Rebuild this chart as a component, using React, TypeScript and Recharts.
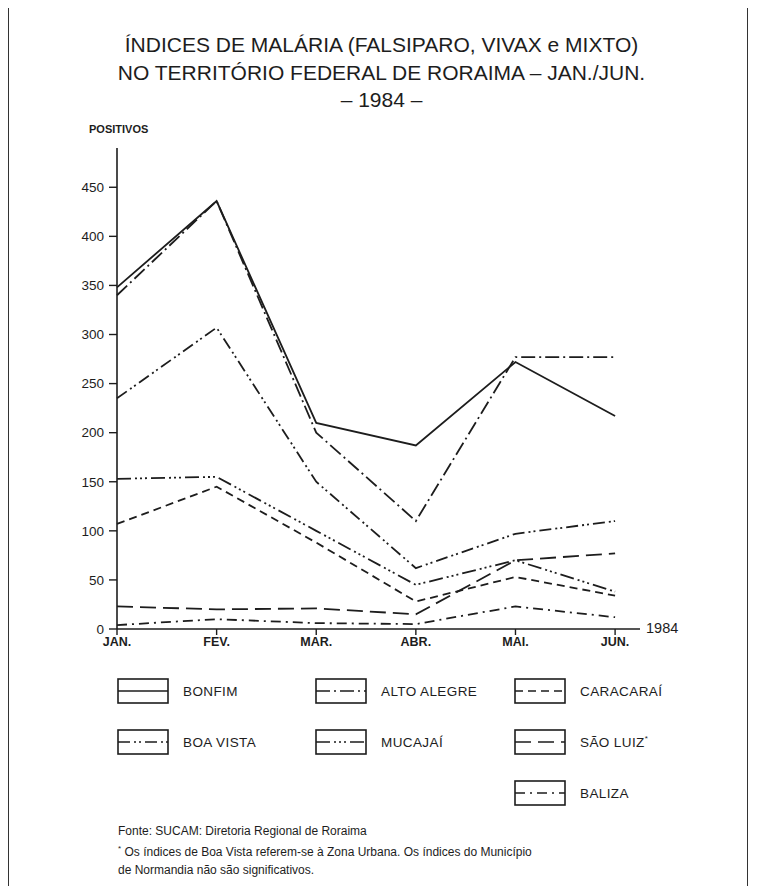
import React from 'react';
import { LineChart, Line, XAxis, YAxis } from 'recharts';

const months = ['JAN.', 'FEV.', 'MAR.', 'ABR.', 'MAI.', 'JUN.'];
const yTicks = [0, 50, 100, 150, 200, 250, 300, 350, 400, 450];

const bonfim = [348, 436, 210, 187, 272, 217];
const altoAlegre = [340, 436, 200, 110, 277, 277];
const boaVista = [235, 307, 150, 62, 97, 110];
const mucajai = [153, 155, 100, 45, 70, 38];
const caracarai = [107, 145, 88, 28, 53, 34];
const saoLuiz = [23, 20, 21, 15, 70, 77];
const baliza = [4, 10, 6, 5, 23, 12];

const INK = '#1d1d1d';
const FONT = '"Liberation Sans", Arial, Helvetica, sans-serif';

// dash patterns, as close as I could read them off the print
const SERIES = [
  { key: 'bonfim', name: 'BONFIM', dash: undefined },
  { key: 'altoAlegre', name: 'ALTO ALEGRE', dash: '14 4 2 4' },
  { key: 'caracarai', name: 'CARACARAÍ', dash: '8 5' },
  { key: 'boaVista', name: 'BOA VISTA', dash: '12 4 2 3 2 4' },
  { key: 'mucajai', name: 'MUCAJAÍ', dash: '14 4 2 3 2 3 2 4' },
  { key: 'saoLuiz', name: 'SÃO LUIZ', dash: '16 7' },
  { key: 'baliza', name: 'BALIZA', dash: '10 5 2 5' },
];

const data = months.map((m, i) => ({
  i,
  month: m,
  bonfim: bonfim[i],
  altoAlegre: altoAlegre[i],
  caracarai: caracarai[i],
  boaVista: boaVista[i],
  mucajai: mucajai[i],
  saoLuiz: saoLuiz[i],
  baliza: baliza[i],
}));

const LegendBox = ({ dash }: { dash?: string }) => (
  <svg width={52} height={26} style={{ display: 'block' }}>
    <rect x={1} y={1} width={50} height={24} fill="none" stroke={INK} strokeWidth={1.6} />
    <line x1={1} y1={13} x2={51} y2={13} stroke={INK} strokeWidth={1.6} strokeDasharray={dash} />
  </svg>
);

// legend cells: [series index, left, top]
const legendCells: [number, number, number][] = [
  [0, 117, 678],
  [1, 315, 678],
  [2, 514, 678],
  [3, 117, 729],
  [4, 315, 729],
  [5, 514, 729],
  [6, 514, 780],
];

export default function App() {
  return (
    <div
      style={{
        position: 'relative',
        width: 763,
        height: 894,
        margin: -8,
        background: '#fff',
        fontFamily: FONT,
        color: INK,
        overflow: 'hidden',
      }}
    >
      <div
        style={{
          position: 'absolute',
          left: 8,
          top: 4,
          width: 738,
          height: 884,
          border: '1.5px solid #333',
        }}
      />

      <div
        style={{
          position: 'absolute',
          top: 31,
          left: 0,
          width: 763,
          textAlign: 'center',
          fontSize: 21,
          lineHeight: '27.5px',
        }}
      >
        <div>ÍNDICES DE MALÁRIA (FALSIPARO, VIVAX e MIXTO)</div>
        <div>NO TERRITÓRIO FEDERAL DE RORAIMA – JAN./JUN.</div>
        <div>– 1984 –</div>
      </div>

      <div style={{ position: 'absolute', left: 89, top: 123, fontSize: 11, fontWeight: 600 }}>
        POSITIVOS
      </div>

      <div style={{ position: 'absolute', top: 0, left: 0 }}>
        <LineChart
          width={763}
          height={660}
          data={data}
          margin={{ top: 148, right: 123, bottom: 1, left: 57 }}
        >
          <XAxis
            dataKey="i"
            type="number"
            domain={[0, 5.25]}
            ticks={[0, 1, 2, 3, 4, 5]}
            tickFormatter={(v: number) => months[v]}
            height={30}
            axisLine={{ stroke: INK, strokeWidth: 1.6 }}
            tickLine={{ stroke: INK, strokeWidth: 1.4 }}
            tickSize={6}
            tick={{ fill: INK, fontSize: 12.5, fontWeight: 600, fontFamily: FONT }}
          />
          <YAxis
            type="number"
            domain={[0, 490]}
            ticks={yTicks}
            width={60}
            axisLine={{ stroke: INK, strokeWidth: 1.6 }}
            tickLine={{ stroke: INK, strokeWidth: 1.4 }}
            tickSize={8}
            tickMargin={5}
            tick={{ fill: INK, fontSize: 13.5, fontFamily: FONT }}
          />
          {SERIES.map(s => (
            <Line
              key={s.key}
              type="linear"
              dataKey={s.key}
              name={s.name}
              stroke={INK}
              strokeWidth={1.8}
              strokeDasharray={s.dash}
              dot={false}
              activeDot={false}
              isAnimationActive={false}
            />
          ))}
        </LineChart>
      </div>

      <div style={{ position: 'absolute', left: 646, top: 620, fontSize: 14.5 }}>1984</div>

      {legendCells.map(([si, left, top]) => (
        <div
          key={SERIES[si].key}
          style={{ position: 'absolute', left, top, display: 'flex', alignItems: 'center' }}
        >
          <LegendBox dash={SERIES[si].dash} />
          <span style={{ marginLeft: 14, fontSize: 13.5, fontWeight: 500, letterSpacing: 0.4 }}>
            {SERIES[si].name}
            {si === 5 && <sup style={{ fontSize: 8 }}>*</sup>}
          </span>
        </div>
      ))}

      <div
        style={{
          position: 'absolute',
          left: 118,
          top: 822,
          fontSize: 12,
          lineHeight: '18px',
        }}
      >
        <div>Fonte: SUCAM: Diretoria Regional de Roraima</div>
        <div>
          <sup style={{ fontSize: 8 }}>*</sup> Os índices de Boa Vista referem-se à Zona Urbana. Os índices do Município
        </div>
        <div>de Normandia não são significativos.</div>
      </div>
    </div>
  );
}
